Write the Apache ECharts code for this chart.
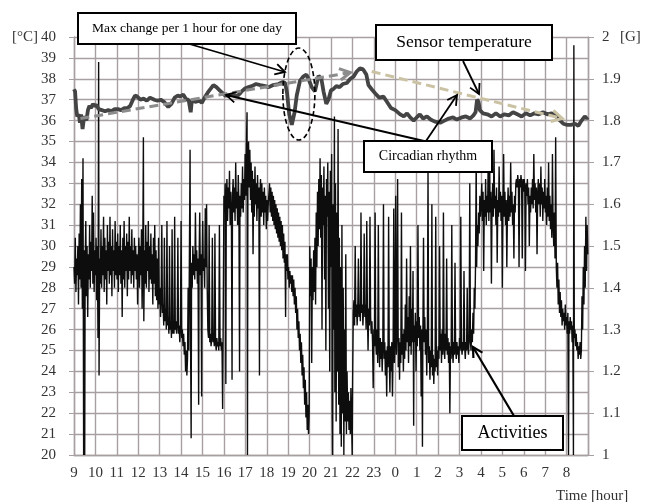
<!DOCTYPE html>
<html><head><meta charset="utf-8">
<script src="https://cdn.jsdelivr.net/npm/echarts@6/dist/echarts.min.js"></script>
<style>html,body{margin:0;padding:0;background:#fff}#c{width:645px;height:502px}</style>
</head><body><div id="c"></div>
<script>
// x = hours elapsed since 9:00
const hourLabels = ['9','10','11','12','13','14','15','16','17','18','19','20','21','22','23','0','1','2','3','4','5','6','7','8'];
const tempTicks = [20, 40, 1];
const gTicks = [1, 2, 0.1];

// Sensor temperature [°C]
const tempData = [
[0.00,37.5],[0.05,37.4],[0.10,36.6],[0.15,36.2],[0.22,36.3],[0.28,35.9],[0.33,36.3],[0.40,35.6],[0.45,36.0],[0.52,36.2],[0.58,36.0],[0.65,36.5],[0.72,36.7],[0.80,36.6],[0.88,36.8],[0.95,36.7],[1.05,36.75],[1.15,36.55],[1.30,36.5],[1.45,36.45],[1.60,36.5],[1.75,36.45],[1.90,36.55],[2.05,36.55],[2.20,36.5],[2.35,36.6],[2.50,36.6],[2.62,36.7],[2.75,37.0],[2.85,37.2],[2.95,37.15],[3.10,37.0],[3.25,37.05],[3.40,36.95],[3.55,37.1],[3.63,37.15],[3.75,37.0],[3.90,36.95],[4.05,37.0],[4.20,36.9],[4.40,36.65],[4.55,36.8],[4.70,37.1],[4.85,37.2],[4.95,37.15],[5.10,37.25],[5.25,37.0],[5.35,37.0],[5.45,36.4],[5.50,36.95],[5.70,36.9],[5.85,36.95],[5.97,36.85],[6.10,37.1],[6.25,37.35],[6.40,37.55],[6.51,37.7],[6.65,37.6],[6.80,37.45],[6.95,37.3],[7.06,37.2],[7.25,37.2],[7.45,37.25],[7.60,37.15],[7.75,37.3],[7.83,37.4],[8.00,37.55],[8.15,37.6],[8.30,37.65],[8.50,37.75],[8.70,37.7],[8.93,37.65],[9.10,37.6],[9.30,37.7],[9.55,37.75],[9.75,37.85],[9.86,37.8],[9.95,37.3],[10.05,36.3],[10.17,35.8],[10.30,36.4],[10.40,37.2],[10.55,37.9],[10.70,38.1],[10.85,38.2],[10.95,38.0],[11.10,37.6],[11.25,37.4],[11.42,38.15],[11.55,38.0],[11.65,37.4],[11.78,36.8],[11.88,37.0],[12.00,37.45],[12.10,37.5],[12.25,37.65],[12.40,37.6],[12.55,37.75],[12.74,37.8],[12.90,38.0],[13.05,38.1],[13.20,38.35],[13.35,38.5],[13.50,38.45],[13.65,38.2],[13.75,37.7],[13.90,37.5],[14.07,37.3],[14.25,37.1],[14.45,37.15],[14.61,36.9],[14.80,36.6],[15.00,36.5],[15.23,36.3],[15.40,36.2],[15.55,36.35],[15.70,36.15],[15.86,36.0],[16.00,36.15],[16.15,36.3],[16.30,36.1],[16.48,36.2],[16.65,36.05],[16.85,35.95],[17.10,35.9],[17.30,36.0],[17.50,36.1],[17.70,36.15],[17.88,36.05],[18.10,36.15],[18.30,36.2],[18.50,36.1],[18.65,36.25],[18.75,36.4],[18.82,37.0],[18.89,36.9],[18.95,36.5],[19.10,36.35],[19.30,36.3],[19.50,36.2],[19.70,36.35],[19.90,36.2],[20.10,36.3],[20.30,36.25],[20.50,36.4],[20.70,36.3],[20.90,36.2],[21.10,36.35],[21.30,36.25],[21.50,36.35],[21.70,36.3],[21.90,36.4],[22.10,36.3],[22.30,36.35],[22.50,36.2],[22.70,36.0],[22.85,35.85],[23.00,35.8],[23.20,35.8],[23.40,35.85],[23.55,35.75],[23.70,36.0],[23.85,36.2],[23.95,36.1],[24.00,36.15]
];

// Activities [G]
const activityData = [
[0.00,1.45],[0.03,1.41],[0.06,1.52],[0.09,1.39],[0.12,1.47],[0.15,1.43],[0.18,1.50],[0.21,1.36],[0.24,1.53],[0.27,1.42],[0.30,1.60],[0.33,1.40],[0.36,1.66],[0.39,1.35],[0.42,1.71],[0.45,1.00],[0.47,1.49],[0.50,1.00],[0.52,1.45],[0.55,1.56],[0.58,1.38],[0.61,1.50],[0.64,1.33],[0.67,1.48],[0.70,1.42],[0.73,1.55],[0.76,1.40],[0.79,1.51],[0.82,1.44],[0.85,1.62],[0.88,1.41],[0.91,1.58],[0.94,1.39],[0.97,1.49],[1.00,1.43],[1.03,1.52],[1.06,1.37],[1.09,1.50],[1.12,1.28],[1.15,1.94],[1.17,1.19],[1.20,1.47],[1.23,1.41],[1.26,1.54],[1.29,1.40],[1.32,1.50],[1.35,1.43],[1.38,1.57],[1.41,1.39],[1.44,1.52],[1.47,1.42],[1.50,1.49],[1.53,1.36],[1.56,1.55],[1.59,1.44],[1.62,1.51],[1.65,1.41],[1.68,1.57],[1.71,1.43],[1.74,1.50],[1.77,1.38],[1.80,1.54],[1.83,1.44],[1.86,1.49],[1.89,1.40],[1.92,1.56],[1.95,1.43],[1.98,1.51],[2.01,1.42],[2.04,1.53],[2.07,1.39],[2.10,1.50],[2.13,1.43],[2.16,1.55],[2.19,1.41],[2.22,1.49],[2.25,1.33],[2.28,1.52],[2.31,1.42],[2.34,1.56],[2.37,1.40],[2.40,1.50],[2.43,1.44],[2.46,1.53],[2.49,1.38],[2.52,1.51],[2.55,1.42],[2.58,1.57],[2.61,1.44],[2.64,1.50],[2.67,1.41],[2.70,1.54],[2.73,1.43],[2.76,1.49],[2.79,1.40],[2.82,1.52],[2.85,1.44],[2.88,1.50],[2.91,1.42],[2.94,1.48],[2.97,1.36],[3.00,1.46],
[3.03,1.52],[3.06,1.40],[3.09,1.50],[3.12,1.43],[3.15,1.54],[3.18,1.35],[3.21,1.47],[3.24,1.76],[3.26,1.32],[3.29,1.49],[3.32,1.41],[3.35,1.55],[3.38,1.40],[3.41,1.51],[3.44,1.44],[3.47,1.56],[3.50,1.39],[3.53,1.50],[3.56,1.42],[3.59,1.53],[3.62,1.41],[3.65,1.48],[3.68,1.36],[3.71,1.52],[3.74,1.41],[3.77,1.55],[3.80,1.38],[3.83,1.49],[3.86,1.37],[3.89,1.47],[3.92,1.35],[3.95,1.52],[3.98,1.36],
[4.01,1.40],[4.04,1.33],[4.07,1.37],[4.10,1.55],[4.13,1.34],[4.16,1.36],[4.19,1.31],[4.22,1.52],[4.25,1.32],[4.28,1.35],[4.31,1.30],[4.34,1.56],[4.37,1.31],[4.40,1.33],[4.43,1.29],[4.46,1.50],[4.49,1.30],[4.52,1.32],[4.55,1.28],[4.58,1.54],[4.61,1.29],
[4.64,1.31],[4.67,1.29],[4.70,1.57],[4.73,1.30],[4.76,1.32],[4.79,1.29],[4.82,1.31],[4.85,1.52],[4.88,1.29],[4.91,1.31],[4.94,1.27],[4.97,1.30],[5.00,1.56],[5.03,1.28],[5.06,1.30],[5.09,1.26],[5.12,1.29],[5.15,1.24],[5.18,1.27],[5.21,1.20],[5.24,1.25],[5.27,1.19],[5.30,1.23],
[5.33,1.40],[5.36,1.25],[5.39,1.49],[5.42,1.73],[5.44,1.30],[5.47,1.04],[5.49,1.46],[5.52,1.40],[5.55,1.50],[5.58,1.43],[5.61,1.48],[5.64,1.42],[5.67,1.58],[5.70,1.44],[5.73,1.49],[5.76,1.41],[5.79,1.47],[5.82,1.12],[5.84,1.46],[5.87,1.58],[5.90,1.43],[5.93,1.48],[5.96,1.14],[5.98,1.45],[6.01,1.56],[6.04,1.44],[6.07,1.47],[6.10,1.40],[6.13,1.59],[6.16,1.45],[6.19,1.60],
[6.22,1.40],[6.25,1.30],[6.28,1.28],[6.31,1.55],[6.34,1.27],[6.37,1.29],[6.40,1.26],[6.43,1.28],[6.46,1.52],[6.49,1.27],[6.52,1.29],[6.55,1.26],[6.58,1.53],[6.61,1.27],[6.64,1.25],[6.67,1.28],[6.70,1.26],[6.73,1.27],[6.76,1.25],[6.79,1.55],[6.82,1.26],[6.85,1.28],[6.88,1.25],[6.91,1.27],[6.94,1.11],[6.97,1.35],
[7.00,1.62],[7.03,1.58],[7.06,1.65],[7.09,1.17],[7.11,1.60],[7.14,1.66],[7.17,1.56],[7.20,1.64],[7.23,1.59],[7.26,1.68],[7.29,1.55],[7.32,1.63],[7.35,1.57],[7.38,1.18],[7.40,1.62],[7.43,1.66],[7.46,1.58],[7.49,1.64],[7.52,1.56],[7.55,1.70],[7.58,1.59],[7.61,1.63],[7.64,1.55],[7.67,1.67],[7.70,1.60],[7.73,1.20],[7.75,1.62],[7.78,1.57],[7.81,1.65],[7.84,1.59],[7.87,1.69],[7.90,1.58],[7.93,1.66],[7.96,1.61],[7.99,1.72],
[8.02,1.62],[8.05,1.74],[8.08,1.82],[8.10,1.00],[8.12,1.66],[8.15,1.75],[8.18,1.64],[8.21,1.73],[8.24,1.61],[8.27,1.70],[8.30,1.58],
[8.33,1.68],[8.36,1.48],[8.39,1.66],[8.42,1.57],[8.45,1.69],[8.48,1.60],[8.51,1.65],[8.54,1.56],[8.57,1.67],[8.60,1.59],[8.63,1.64],[8.66,1.19],[8.68,1.62],[8.71,1.66],[8.74,1.57],[8.77,1.65],[8.80,1.58],[8.83,1.63],[8.86,1.55],[8.89,1.64],[8.92,1.58],[8.95,1.62],[8.98,1.54],[9.01,1.61],[9.04,1.56],[9.07,1.60],
[9.10,1.60],[9.13,1.65],[9.16,1.58],[9.19,1.64],[9.22,1.57],[9.25,1.63],[9.28,1.56],[9.31,1.62],[9.34,1.55],[9.37,1.61],[9.40,1.54],[9.43,1.60],[9.46,1.53],[9.49,1.59],[9.52,1.52],[9.55,1.58],[9.58,1.51],[9.61,1.57],[9.64,1.50],[9.67,1.56],[9.70,1.49],[9.73,1.55],[9.76,1.47],[9.79,1.53],[9.82,1.46],[9.85,1.51],[9.88,1.33],[9.90,1.48],
[9.93,1.44],[9.96,1.48],[9.99,1.42],[10.02,1.45],[10.05,1.40],[10.08,1.44],[10.11,1.41],[10.14,1.43],[10.17,1.39],[10.20,1.43],[10.23,1.38],[10.26,1.42],[10.29,1.36],[10.32,1.40],[10.35,1.34],[10.38,1.38],[10.41,1.30],[10.44,1.35],[10.47,1.28],[10.50,1.32],[10.53,1.25],[10.56,1.29],[10.59,1.22],[10.62,1.27],[10.65,1.19],[10.68,1.24],[10.71,1.16],[10.74,1.21],[10.77,1.12],[10.80,1.18],[10.83,1.09],[10.86,1.15],[10.89,1.06],[10.92,1.12],[10.95,1.05],[10.98,1.10],
[11.01,1.50],[11.04,1.38],[11.07,1.47],[11.10,1.22],[11.13,1.45],[11.16,1.37],[11.19,1.49],[11.22,1.39],[11.25,1.52],[11.28,1.36],[11.31,1.58],[11.34,1.45],[11.37,1.63],[11.40,1.50],[11.43,1.66],[11.46,1.54],[11.49,1.71],[11.52,1.52],[11.55,1.67],[11.58,1.30],[11.61,1.64],[11.64,1.55],[11.67,1.69],[11.70,1.42],[11.73,1.62],[11.76,1.25],[11.79,1.66],[11.82,1.57],[11.85,1.70],[11.88,1.35],[11.91,1.63],[11.94,1.20],[11.97,1.68],[12.00,1.45],[12.03,1.72],[12.06,1.10],[12.08,1.00],[12.10,1.60],[12.13,1.30],[12.16,1.81],[12.18,1.15],[12.21,1.65],[12.24,1.08],[12.27,1.58],[12.30,1.20],[12.33,1.78],[12.36,1.12],[12.39,1.52],[12.42,1.05],[12.45,1.45],[12.48,1.02],[12.51,1.55],[12.54,1.10],[12.57,1.40],[12.60,1.00],[12.63,1.30],[12.66,1.08],[12.69,1.48],[12.72,1.05],[12.75,1.20],[12.78,1.08],[12.81,1.15],[12.84,1.06],[12.87,1.13],[12.90,1.05],[12.93,1.16],[12.96,1.08],[12.99,1.00],[13.01,1.18],
[13.04,1.34],[13.07,1.37],[13.10,1.31],[13.13,1.50],[13.16,1.33],[13.19,1.36],[13.22,1.31],[13.25,1.35],[13.28,1.47],[13.31,1.33],[13.34,1.36],[13.37,1.32],[13.40,1.58],[13.43,1.34],[13.46,1.36],[13.49,1.31],[13.52,1.35],[13.55,1.53],[13.58,1.33],[13.61,1.36],[13.64,1.30],[13.67,1.56],[13.70,1.34],[13.73,1.25],[13.76,1.35],[13.79,1.31],[13.82,1.57],[13.85,1.33],[13.88,1.29],[13.91,1.32],[13.94,1.27],[13.97,1.16],[14.00,1.30],[14.03,1.26],[14.06,1.58],[14.09,1.27],[14.12,1.24],[14.15,1.30],[14.18,1.22],[14.21,1.55],[14.24,1.26],[14.27,1.21],[14.30,1.28],[14.33,1.23],[14.36,1.27],[14.39,1.20],[14.42,1.26],[14.45,1.60],[14.48,1.23],[14.51,1.27],[14.54,1.19],[14.57,1.25],[14.60,1.14],[14.63,1.26],[14.66,1.21],[14.69,1.57],[14.72,1.24],[14.75,1.15],[14.78,1.26],[14.81,1.20],[14.84,1.27],[14.87,1.14],[14.90,1.25],[14.93,1.59],[14.96,1.22],[14.99,1.27],
[15.02,1.62],[15.05,1.24],[15.08,1.29],[15.11,1.66],[15.14,1.21],[15.17,1.28],[15.20,1.18],[15.23,1.27],[15.26,1.22],[15.29,1.58],[15.32,1.24],[15.35,1.29],[15.38,1.20],[15.41,1.30],[15.44,1.23],[15.47,1.36],[15.50,1.25],[15.53,1.47],[15.56,1.27],[15.59,1.33],[15.62,1.22],[15.65,1.38],[15.68,1.26],[15.71,1.50],[15.74,1.24],[15.77,1.35],[15.80,1.27],[15.83,1.44],[15.86,1.07],[15.88,1.31],[15.91,1.27],[15.94,1.34],[15.97,1.20],[16.00,1.32],[16.03,1.26],[16.06,1.55],[16.09,1.28],[16.12,1.33],[16.15,1.25],[16.18,1.31],[16.21,1.14],[16.24,1.30],[16.27,1.02],[16.29,1.29],[16.32,1.52],[16.35,1.27],[16.38,1.33],[16.41,1.24],[16.44,1.30],[16.47,1.19],[16.50,1.28],[16.53,1.68],[16.56,1.22],[16.59,1.26],[16.62,1.18],[16.65,1.25],[16.68,1.21],[16.71,1.60],[16.74,1.19],[16.77,1.24],[16.80,1.17],[16.83,1.23],[16.86,1.20],[16.89,1.57],[16.92,1.21],[16.95,1.25],[16.98,1.19],[17.01,1.26],[17.04,1.23],[17.07,1.50],[17.10,1.25],[17.13,1.29],[17.16,1.22],[17.19,1.30],[17.22,1.24],[17.25,1.58],[17.28,1.26],[17.31,1.23],[17.34,1.29],[17.37,1.25],[17.40,1.47],[17.43,1.24],[17.46,1.28],[17.49,1.22],[17.52,1.27],[17.55,1.10],[17.58,1.26],[17.61,1.23],[17.64,1.55],[17.67,1.25],[17.70,1.22],[17.73,1.27],[17.76,1.24],[17.79,1.46],[17.82,1.25],[17.85,1.23],[17.88,1.27],[17.91,1.24],[17.94,1.26],[17.97,1.22],[18.00,1.28],[18.03,1.25],[18.06,1.57],[18.09,1.26],[18.12,1.24],[18.15,1.27],[18.18,1.25],[18.21,1.44],[18.24,1.26],[18.27,1.23],[18.30,1.27],[18.33,1.25],[18.36,1.40],[18.39,1.26],[18.42,1.24],[18.45,1.28],[18.48,1.65],[18.51,1.27],[18.54,1.25],[18.57,1.30],[18.60,1.27],[18.63,1.34],[18.66,1.29],[18.69,1.40],[18.72,1.35],[18.75,1.46],[18.78,1.72],[18.80,1.45],[18.83,1.55],[18.86,1.50],[18.89,1.58],[18.92,1.53],[18.95,1.62],[18.98,1.57],
[19.01,1.60],[19.04,1.65],[19.07,1.56],[19.10,1.63],[19.13,1.44],[19.16,1.61],[19.19,1.57],[19.22,1.66],[19.25,1.55],[19.28,1.62],[19.31,1.58],[19.34,1.70],[19.37,1.56],[19.40,1.75],[19.43,1.58],[19.46,1.63],[19.49,1.41],[19.52,1.60],[19.55,1.65],[19.58,1.57],[19.61,1.73],[19.64,1.59],[19.67,1.62],[19.70,1.55],[19.73,1.64],[19.76,1.46],[19.79,1.61],[19.82,1.57],[19.85,1.69],[19.88,1.58],[19.91,1.63],[19.94,1.56],[19.97,1.62],[20.00,1.40],[20.03,1.60],[20.06,1.72],[20.09,1.57],[20.12,1.63],[20.15,1.55],[20.18,1.61],[20.21,1.45],[20.24,1.59],[20.27,1.64],[20.30,1.56],[20.33,1.62],[20.36,1.57],[20.39,1.70],[20.42,1.58],[20.45,1.63],[20.48,1.55],[20.51,1.60],[20.54,1.47],[20.57,1.62],[20.60,1.58],[20.63,1.65],
[20.66,1.66],[20.69,1.64],[20.72,1.67],[20.75,1.65],[20.78,1.45],[20.81,1.66],[20.84,1.64],[20.87,1.67],[20.90,1.65],[20.93,1.47],[20.96,1.66],[20.99,1.63],[21.02,1.66],[21.05,1.64],[21.08,1.44],[21.11,1.65],[21.14,1.62],[21.17,1.66],[21.20,1.60],[21.23,1.64],[21.26,1.50],[21.29,1.62],
[21.32,1.58],[21.35,1.64],[21.38,1.60],[21.41,1.66],[21.44,1.59],[21.47,1.72],[21.50,1.61],[21.53,1.65],[21.56,1.58],[21.59,1.64],[21.62,1.48],[21.65,1.62],[21.68,1.66],[21.71,1.60],[21.74,1.65],[21.77,1.57],[21.80,1.69],[21.83,1.60],[21.86,1.64],[21.89,1.56],[21.92,1.63],[21.95,1.59],[21.98,1.66],[22.01,1.58],[22.04,1.62],[22.07,1.55],[22.10,1.64],[22.13,1.57],[22.16,1.70],[22.19,1.56],[22.22,1.62],[22.25,1.54],[22.28,1.60],[22.31,1.52],[22.34,1.72],[22.37,1.55],[22.40,1.50],[22.43,1.58],[22.46,1.47],[22.49,1.76],[22.52,1.45],
[22.55,1.40],[22.58,1.46],[22.61,1.36],[22.64,1.42],[22.67,1.34],[22.70,1.39],[22.73,1.33],[22.76,1.37],[22.79,1.31],[22.82,1.35],[22.85,1.32],[22.88,1.34],[22.91,1.30],[22.94,1.36],[22.97,1.31],[23.00,1.33],[23.03,1.29],[23.06,1.34],[23.09,1.00],[23.11,1.32],[23.14,1.29],[23.17,1.33],[23.20,1.30],[23.23,1.32],[23.26,1.27],[23.29,1.31],[23.32,1.00],[23.34,1.98],[23.36,1.28],[23.39,1.30],[23.42,1.26],[23.45,1.29],[23.48,1.25],[23.51,1.27],[23.54,1.23],[23.57,1.26],[23.60,1.24],[23.63,1.27],[23.66,1.23],[23.69,1.25],[23.72,1.38],[23.75,1.30],[23.78,1.45],[23.81,1.36],[23.84,1.50],[23.87,1.40],[23.90,1.57],[23.93,1.44],[23.96,1.55],[23.99,1.48]
];

// Circadian rhythm trend arrows [hour, °C]
const circadianRise = [[0.3, 36.1], [12.9, 38.3]];
const circadianFall = [[13.9, 38.35], [22.8, 36.1]];
// "Max change per 1 hour" ellipse centre [hour, °C]
const maxChangeCentre = [10.5, 37.27];

const FONT = "'Liberation Serif','Times New Roman',serif";
const GRID_C = '#a8a0a0';
const chart = echarts.init(document.getElementById('c'), null, {renderer: 'canvas'});

const option = {
  animation: false,
  backgroundColor: '#fff',
  grid: {left: 74, right: 57, top: 37, bottom: 47, containLabel: false},
  xAxis: {
    type: 'value', min: 0, max: 24, interval: 1,
    axisLine: {show: true, lineStyle: {color: GRID_C, width: 1.4}},
    axisTick: {show: false},
    splitLine: {show: true, lineStyle: {color: GRID_C, width: 1.4}},
    axisLabel: {
      fontFamily: FONT, fontSize: 15, color: '#333', margin: 11,
      showMaxLabel: false,
      formatter: v => (v < hourLabels.length ? hourLabels[v] : '')
    }
  },
  yAxis: [{
    type: 'value', min: tempTicks[0], max: tempTicks[1], interval: tempTicks[2],
    axisLine: {show: true, lineStyle: {color: GRID_C, width: 1.4}},
    axisTick: {show: true, length: 5, lineStyle: {color: GRID_C}},
    splitLine: {show: true, lineStyle: {color: GRID_C, width: 1.4}},
    axisLabel: {fontFamily: FONT, fontSize: 15, color: '#333', margin: 18}
  }, {
    type: 'value', min: gTicks[0], max: gTicks[1], interval: gTicks[2],
    position: 'right',
    axisLine: {show: true, lineStyle: {color: GRID_C, width: 1.4}},
    axisTick: {show: true, length: 6, lineStyle: {color: GRID_C}},
    splitLine: {show: false},
    axisLabel: {fontFamily: FONT, fontSize: 15, color: '#333', margin: 14,
      formatter: v => String(+v.toFixed(1))}
  }],
  series: [{
    name: 'Activities', type: 'line', yAxisIndex: 1, data: activityData,
    showSymbol: false, sampling: null, z: 2,
    lineStyle: {color: '#0d0d0d', width: 1.4}
  }, {
    name: 'Sensor temperature', type: 'line', yAxisIndex: 0, data: tempData,
    showSymbol: false, z: 3,
    lineStyle: {color: '#444', width: 3.8}
  }]
};
chart.setOption(option);

function px(p) { return chart.convertToPixel({xAxisIndex: 0, yAxisIndex: 0}, p); }
function arrowHead(tip, from, len, color, width) {
  const ang = Math.atan2(tip[1] - from[1], tip[0] - from[0]);
  const a1 = ang + Math.PI - 0.5, a2 = ang + Math.PI + 0.5;
  return {type: 'polyline', z: 20, shape: {points: [
    [tip[0] + len * Math.cos(a1), tip[1] + len * Math.sin(a1)], tip,
    [tip[0] + len * Math.cos(a2), tip[1] + len * Math.sin(a2)]]},
    style: {stroke: color, lineWidth: width, fill: null}};
}
function arrow(from, to, color, width, dash, len) {
  return [{type: 'line', z: 20, shape: {x1: from[0], y1: from[1], x2: to[0], y2: to[1]},
    style: {stroke: color, lineWidth: width, lineDash: dash || null}},
    arrowHead(to, from, len || 11, color, width)];
}
function box(x, y, w, h, text, fs) {
  return [{type: 'rect', z: 30, shape: {x: x, y: y, width: w, height: h},
    style: {fill: '#fff', stroke: '#000', lineWidth: 2}},
    {type: 'text', z: 31, x: x + w / 2, y: y + h / 2,
    style: {text: text, font: fs + 'px ' + FONT, fill: '#000', align: 'center', verticalAlign: 'middle'}}];
}

const r0 = px(circadianRise[0]), r1 = px(circadianRise[1]);
const f0 = px(circadianFall[0]), f1 = px(circadianFall[1]);
const ec = px(maxChangeCentre);

let g = [];
g = g.concat(arrow(r0, r1, '#8c8c8c', 3, [9, 5], 12));
g = g.concat(arrow(f0, f1, '#cbc2a4', 3, [9, 5], 12));
g.push({type: 'ellipse', z: 21, shape: {cx: ec[0], cy: ec[1], rx: 16, ry: 46},
  style: {stroke: '#000', lineWidth: 1.6, lineDash: [5, 3], fill: null}});
g = g.concat(arrow([186, 43], [285, 72], '#000', 1.8));
g = g.concat(arrow([424, 141], [226, 95], '#000', 1.8));
g = g.concat(arrow([426, 141], [457, 95], '#000', 1.8));
g = g.concat(arrow([463, 61], [479, 94], '#000', 1.8));
g = g.concat(arrow([514, 416], [473, 347], '#000', 2.2));
g = g.concat(box(78, 13, 218, 31, 'Max change per 1 hour for one day', 13.5));
g = g.concat(box(376, 25, 176, 35, 'Sensor temperature', 17.5));
g = g.concat(box(364, 141, 128, 31, 'Circadian rhythm', 14));
g = g.concat(box(462, 416, 101, 34, 'Activities', 18));
g.push({type: 'text', z: 31, x: 12, y: 37, style: {text: '[°C]', font: '15px ' + FONT, fill: '#333', verticalAlign: 'middle'}});
g.push({type: 'text', z: 31, x: 620, y: 37, style: {text: '[G]', font: '15px ' + FONT, fill: '#333', verticalAlign: 'middle'}});
g.push({type: 'text', z: 31, x: 556, y: 496, style: {text: 'Time [hour]', font: '15px ' + FONT, fill: '#333', verticalAlign: 'middle'}});
chart.setOption({graphic: g});
</script>
</body></html>
